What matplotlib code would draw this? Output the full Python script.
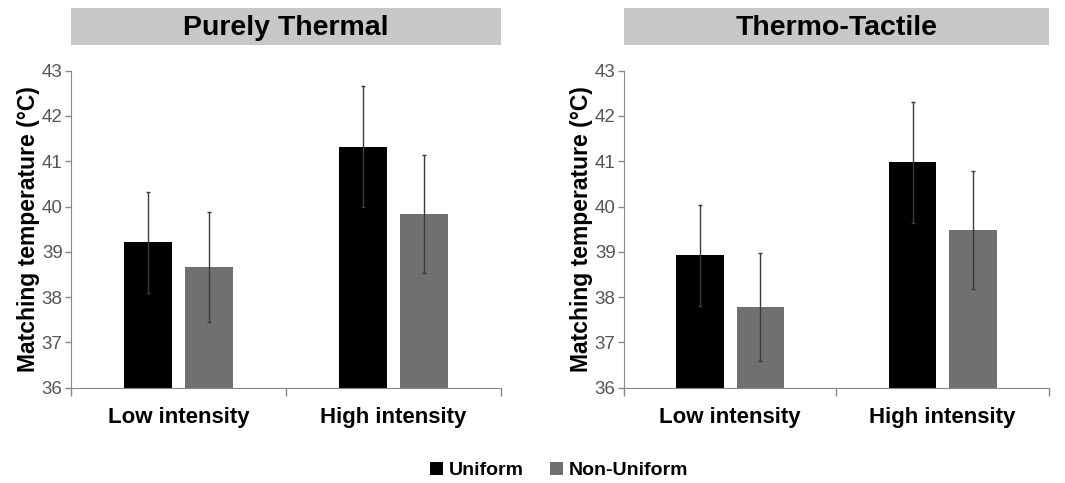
import numpy as np
import matplotlib.pyplot as plt
from matplotlib.patches import Rectangle

plt.rcParams['font.family'] = ['Liberation Sans', 'DejaVu Sans']

# data
groups = ['Low intensity', 'High intensity']
series = ['Uniform', 'Non-Uniform']
panels = ['Purely Thermal', 'Thermo-Tactile']

thermal_mean = [[39.21, 41.32], [38.67, 39.83]]
thermal_err = [[1.11, 1.34], [1.21, 1.30]]
tactile_mean = [[38.92, 40.98], [37.78, 39.49]]
tactile_err = [[1.11, 1.34], [1.20, 1.30]]

colors = ['#000000', '#707070']

fig = plt.figure(figsize=(10.65, 4.83), dpi=100)
ax1 = fig.add_axes([0.0667, 0.1973, 0.4035, 0.6563])
ax2 = fig.add_axes([0.5859, 0.1973, 0.3990, 0.6563])

x = np.arange(len(groups))
width = 0.223
offset = 0.142

for ax, title, means, errs in [(ax1, panels[0], thermal_mean, thermal_err),
                               (ax2, panels[1], tactile_mean, tactile_err)]:
    for i, name in enumerate(series):
        pos = x + (i - 0.5) * 2 * offset
        ax.bar(pos, means[i], width, bottom=0, color=colors[i], label=name,
               zorder=2)
        ax.errorbar(pos, means[i], yerr=errs[i], fmt='none', ecolor='#3a3a3a',
                    elinewidth=1, capsize=1.5, capthick=1, zorder=3)
    ax.set_ylim(36, 43)
    ax.set_xlim(-0.5, 1.5)
    ax.set_yticks(range(36, 44))
    ax.tick_params(axis='y', colors='#888888', labelcolor='#555555',
                   labelsize=13.5, length=4, width=1, pad=2)
    # category labels between boundary ticks
    ax.set_xticks([-0.5, 0.5, 1.5])
    ax.set_xticklabels([])
    ax.set_xticks(x, minor=True)
    ax.set_xticklabels(groups, minor=True, fontsize=16, fontweight='bold')
    ax.tick_params(axis='x', which='major', colors='#888888', length=6,
                   width=1, direction='out')
    ax.tick_params(axis='x', which='minor', length=0, pad=14)
    for s in ['top', 'right']:
        ax.spines[s].set_visible(False)
    for s in ['left', 'bottom']:
        ax.spines[s].set_color('#888888')
    ax.set_ylabel('Matching temperature (°C)', fontsize=16.5,
                  fontweight='bold', labelpad=1)

    # grey title band above each panel
    pos_ax = ax.get_position()
    fig.patches.append(Rectangle((pos_ax.x0, 0.9068), pos_ax.width, 0.076,
                                 transform=fig.transFigure,
                                 facecolor='#c8c8c8', edgecolor='none'))
    fig.text(pos_ax.x0 + pos_ax.width / 2, 0.942, title, ha='center',
             va='center', fontsize=20.5, fontweight='bold')

handles, labels = ax1.get_legend_handles_labels()
fig.legend(handles, labels, loc='center', bbox_to_anchor=(0.525, 0.026),
           ncol=2, frameon=False, handlelength=0.7,
           handleheight=0.7, handletextpad=0.3, columnspacing=1.3,
           prop={'weight': 'bold', 'size': 14})

fig.savefig('out.png', dpi=100)
